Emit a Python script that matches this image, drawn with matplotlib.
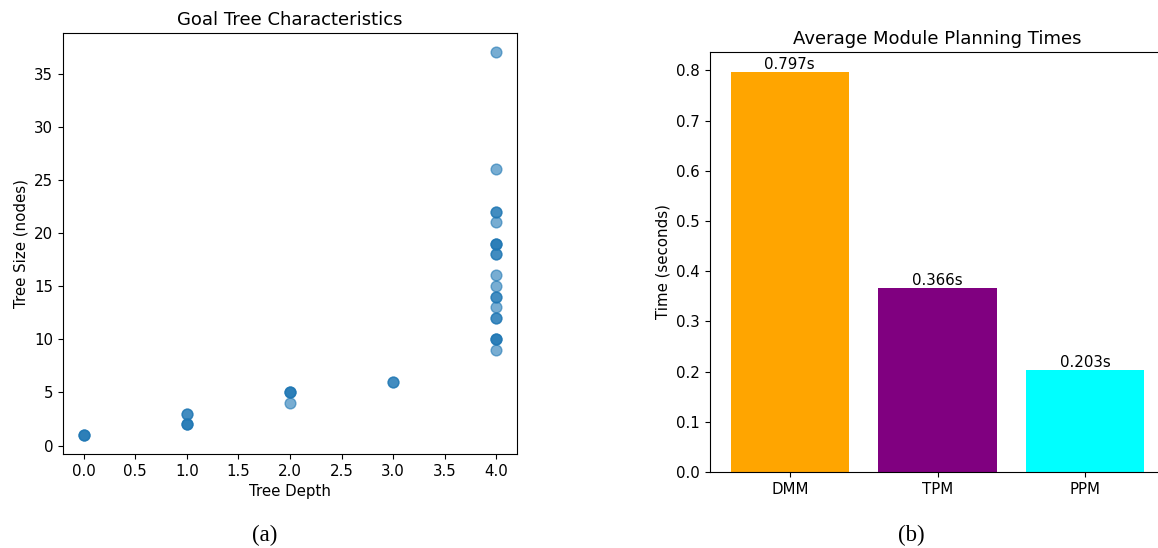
import numpy as np
import matplotlib
matplotlib.use('Agg')
import matplotlib.pyplot as plt

# goal tree data (depth, size), duplicates show up as darker points
depths = [0, 0, 0,
          1, 1, 1, 1, 1,
          2, 2, 2, 2,
          3, 3,
          4, 4, 4, 4, 4, 4, 4, 4, 4, 4, 4, 4, 4, 4, 4, 4, 4, 4, 4, 4, 4]
sizes = [1, 1, 1,
         3, 3, 2, 2, 2,
         5, 5, 5, 4,
         6, 6,
         37, 26, 22, 22, 21, 19, 19, 19, 18, 18, 16, 15, 14, 14, 13, 12, 12, 10, 10, 10, 9]

modules = ['DMM', 'TPM', 'PPM']
times = [0.797, 0.366, 0.203]
bar_colors = ['orange', 'purple', 'cyan']

plt.rcParams['font.size'] = 10.8

fig = plt.figure(figsize=(11.58, 5.48), dpi=100)

ax1 = fig.add_axes([0.0544, 0.1715, 0.392, 0.768])
ax1.scatter(depths, sizes, alpha=0.6, s=60)
ax1.set_title('Goal Tree Characteristics')
ax1.set_xlabel('Tree Depth')
ax1.set_ylabel('Tree Size (nodes)')

# right panel runs past the figure edge, like the cropped original
ax2 = fig.add_axes([0.6131, 0.1387, 0.393, 0.7664])
bars = ax2.bar(modules, times, color=bar_colors)
for b, t in zip(bars, times):
    ax2.text(b.get_x() + b.get_width() / 2, t, f'{t:.3f}s', ha='center', va='bottom')
ax2.set_title('Average Module Planning Times')
ax2.set_ylabel('Time (seconds)')
ax2.spines['right'].set_visible(False)

# sub-figure captions
fig.text(0.229, 0.012, '(a)', family='Liberation Serif', fontsize=16.5, ha='center', va='baseline')
fig.text(0.787, 0.012, '(b)', family='Liberation Serif', fontsize=16.5, ha='center', va='baseline')

plt.savefig('out.png', dpi=100)
